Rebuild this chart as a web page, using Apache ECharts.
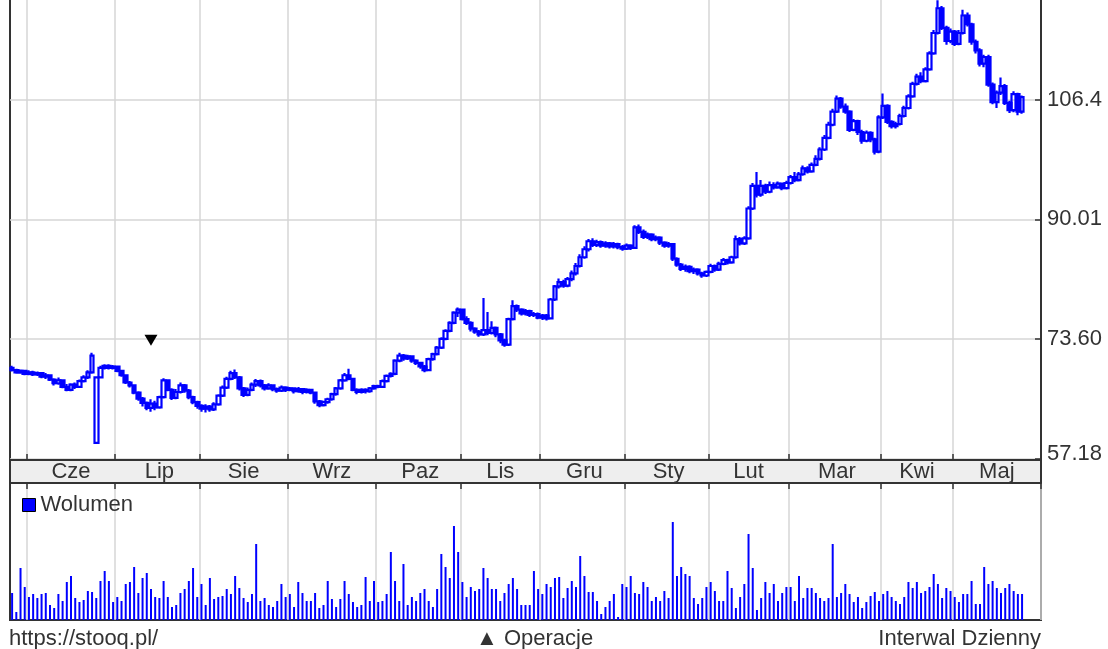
<!DOCTYPE html>
<html>
<head>
<meta charset="utf-8">
<script src="https://cdn.jsdelivr.net/npm/echarts@6/dist/echarts.min.js"></script>
<style>
  html, body { margin: 0; padding: 0; background: #fff; }
  #chart { width: 1108px; height: 649px; }
</style>
</head>
<body>
<div id="chart"></div>
<script>
// month names and the index of the first session of each month
const months = ['Cze', 'Lip', 'Sie', 'Wrz', 'Paz', 'Lis', 'Gru', 'Sty', 'Lut', 'Mar', 'Kwi', 'Maj'];
const monthStart = [4, 25, 45, 66, 87, 107, 126, 146, 166, 185, 207, 224];
const sessionSlots = 245;
const priceTicks = [57.18, 73.60, 90.01, 106.4, 122.8];

// daily candles: [open, close, low, high]
const candles = [
  [69.6,69.3,69.1,69.9],[69.3,69.0,68.8,69.5],[69.0,69.2,68.8,69.4],[69.2,68.8,68.6,69.3],[68.8,69.0,68.6,69.3],
  [69.0,68.7,68.5,69.2],[68.7,68.9,68.5,69.1],[68.9,68.4,68.2,69.0],[68.4,68.6,68.1,68.9],[68.6,68.0,67.8,68.7],
  [68.0,67.5,67.2,68.2],[67.5,67.9,67.3,68.3],[67.9,67.0,66.8,68.0],[67.0,66.6,66.4,67.4],[66.6,67.3,66.4,67.5],
  [67.3,67.0,66.7,67.6],[67.0,67.8,66.9,68.0],[67.8,68.3,67.6,68.6],[68.3,69.0,68.1,69.3],[69.0,71.3,68.8,71.7],
  [59.3,68.3,59.3,68.4],[68.3,69.6,68.2,69.9],[69.6,69.9,69.4,70.1],[69.9,69.6,69.4,70.1],[69.6,69.8,69.4,70.0],
  [69.8,69.2,69.0,69.9],[69.2,68.6,68.4,69.3],[68.6,67.6,67.4,68.7],[67.6,67.2,66.9,67.8],[67.2,66.2,66.0,67.3],
  [66.2,65.4,65.1,66.4],[65.4,64.8,64.3,65.6],[64.8,64.1,63.8,65.0],[64.1,64.7,63.6,65.3],[64.7,64.2,63.8,65.1],
  [64.2,65.6,64.0,65.8],[65.6,67.9,65.4,68.2],[67.9,66.6,66.4,68.0],[66.6,65.5,65.2,66.8],[65.5,66.3,65.3,66.7],
  [66.3,67.2,66.1,67.6],[67.2,66.5,66.2,67.4],[66.5,65.6,65.3,66.7],[65.6,64.9,64.6,65.8],[64.9,64.4,64.0,65.1],
  [64.4,64.0,63.6,64.6],[64.0,64.3,63.5,64.6],[64.3,63.9,63.6,64.5],[63.9,64.6,63.7,64.9],[64.6,65.8,64.4,66.0],
  [65.8,66.9,65.6,67.2],[66.9,68.1,66.7,68.4],[68.1,68.9,67.9,69.2],[68.9,68.3,68.1,69.4],[68.3,66.8,66.5,68.5],
  [66.8,65.9,65.6,67.0],[65.9,66.6,65.7,66.9],[66.6,67.3,66.4,67.6],[67.3,67.8,67.0,68.1],[67.8,67.2,66.9,68.0],
  [67.2,66.8,66.5,67.4],[66.8,67.2,66.6,67.5],[67.2,66.7,66.4,67.3],[66.7,66.5,66.2,66.9],[66.5,66.9,66.3,67.2],
  [66.9,66.6,66.3,67.1],[66.6,66.8,66.4,67.0],[66.8,66.4,66.1,66.9],[66.4,66.7,66.2,67.0],[66.7,66.3,66.0,66.8],
  [66.3,66.6,66.1,66.8],[66.6,66.2,66.0,66.7],[66.2,65.0,64.7,66.3],[65.0,64.5,64.2,65.2],[64.5,64.9,64.3,65.1],
  [64.9,65.3,64.7,65.5],[65.3,66.0,65.1,66.2],[66.0,66.8,65.8,67.0],[66.8,67.9,66.6,68.1],[67.9,68.6,67.7,68.9],
  [68.6,68.1,67.9,69.5],[68.1,66.6,66.4,68.2],[66.6,66.3,66.0,66.8],[66.3,66.6,66.1,66.8],[66.6,66.4,66.1,66.8],
  [66.4,66.8,66.2,67.0],[66.8,67.1,66.6,67.3],[67.1,67.0,66.8,67.3],[67.0,67.8,66.9,68.0],[67.8,68.5,67.6,68.7],
  [68.5,68.8,68.3,69.0],[68.8,70.6,68.6,70.8],[70.6,71.3,70.4,71.7],[71.3,70.9,70.6,71.5],[70.9,71.2,70.7,71.4],
  [71.2,70.6,70.3,71.3],[70.6,70.3,70.0,70.8],[70.3,69.8,69.5,70.4],[69.8,69.3,69.0,70.0],[69.3,70.8,69.2,71.0],
  [70.8,71.5,70.6,71.7],[71.5,72.4,71.3,72.6],[72.4,73.6,72.2,73.8],[73.6,74.7,73.4,74.9],[74.7,75.8,74.5,76.0],
  [75.8,77.2,75.6,77.4],[77.2,77.6,76.6,77.9],[77.6,76.3,76.1,77.7],[76.3,75.8,75.5,76.7],[75.8,75.0,74.6,76.0],
  [75.0,74.6,74.3,75.2],[74.6,74.2,73.9,74.8],[74.2,74.8,74.0,79.2],[74.8,74.4,74.1,77.3],[74.4,75.1,74.2,76.0],
  [75.1,74.2,73.8,75.3],[74.2,73.4,73.0,74.4],[73.4,72.8,72.5,73.6],[72.8,76.3,72.6,76.5],[76.3,78.1,76.1,78.9],
  [78.1,77.6,77.3,78.3],[77.6,77.1,76.8,77.8],[77.1,77.4,76.8,77.7],[77.4,76.9,76.6,77.6],[76.9,77.0,76.6,77.3],
  [77.0,76.5,76.3,77.2],[76.5,76.8,76.2,77.0],[76.8,76.4,76.1,77.0],[76.4,79.0,76.3,79.2],[79.0,80.8,78.8,81.0],
  [80.8,81.4,80.5,81.9],[81.4,80.9,80.6,81.7],[80.9,81.8,80.7,82.1],[81.8,82.6,81.5,83.0],[82.6,83.6,82.3,84.0],
  [83.6,84.8,83.4,85.2],[84.8,85.9,84.6,86.3],[85.9,87.0,85.6,87.3],[87.0,86.5,86.2,87.4],[86.5,86.9,86.2,87.2],
  [86.9,86.4,86.1,87.1],[86.4,86.7,86.1,87.0],[86.7,86.3,86.0,86.9],[86.3,86.6,86.0,86.9],[86.6,86.2,85.9,86.8],
  [86.2,86.0,85.7,86.5],[86.0,86.4,85.8,86.7],[86.4,86.1,85.8,86.6],[86.1,88.9,86.0,89.2],[88.9,88.3,88.0,89.3],
  [88.3,87.6,87.3,88.6],[87.6,87.9,87.3,88.2],[87.9,87.3,87.0,88.1],[87.3,87.5,87.0,87.8],[87.5,86.8,86.5,87.7],
  [86.8,86.4,86.1,87.0],[86.4,86.6,86.1,86.9],[86.6,84.6,84.3,86.7],[84.6,83.8,83.5,84.8],[83.8,83.2,82.9,84.0],
  [83.2,83.5,82.8,83.8],[83.5,82.9,82.6,83.7],[82.9,83.1,82.5,83.4],[83.1,82.6,82.3,83.3],[82.6,82.3,82.0,82.8],
  [82.3,82.8,82.1,83.0],[82.8,83.6,82.6,83.9],[83.6,83.1,82.8,83.8],[83.1,83.9,82.9,84.2],[83.9,84.4,83.7,84.7],
  [84.4,84.1,83.8,84.6],[84.1,84.8,83.9,85.0],[84.8,87.3,84.6,87.8],[87.3,86.7,86.4,87.6],[86.7,87.4,86.5,87.7],
  [87.4,91.5,87.2,91.8],[91.5,94.6,91.3,95.0],[94.6,93.4,93.0,96.5],[93.4,94.6,93.1,95.4],[94.6,93.8,93.5,94.9],
  [93.8,94.7,93.6,95.2],[94.7,94.4,94.1,95.1],[94.4,94.9,94.2,95.2],[94.9,94.3,94.0,95.0],[94.3,95.0,94.1,95.3],
  [95.0,95.8,94.8,96.1],[95.8,95.4,95.1,96.5],[95.4,96.2,95.2,96.5],[96.2,97.0,96.0,97.4],[97.0,96.6,96.3,97.3],
  [96.6,97.5,96.4,97.8],[97.5,98.3,97.3,98.8],[98.3,99.6,98.1,99.9],[99.6,101.2,99.4,101.6],[101.2,103.0,101.0,103.4],
  [103.0,104.8,102.8,105.2],[104.8,106.6,104.6,107.0],[106.6,105.5,105.2,106.8],[105.5,104.8,104.5,105.9],[104.8,102.3,102.0,105.0],
  [102.3,103.5,102.1,103.8],[103.5,102.0,101.6,103.7],[102.0,100.8,100.4,102.3],[100.8,101.9,100.6,102.2],[101.9,101.0,100.6,102.1],
  [101.0,99.3,98.9,101.2],[99.3,104.0,99.1,104.3],[104.0,105.6,103.8,107.3],[105.6,103.4,103.1,105.8],[103.4,102.8,102.5,103.6],
  [102.8,103.1,102.5,103.4],[103.1,104.2,102.9,104.5],[104.2,105.3,104.0,105.6],[105.3,106.9,105.1,107.2],[106.9,108.6,106.7,108.9],
  [108.6,109.6,108.4,110.0],[109.6,109.0,108.7,110.2],[109.0,110.6,108.8,110.9],[110.6,112.8,110.4,113.1],[112.8,115.6,112.6,116.0],
  [115.6,119.0,115.4,120.1],[119.0,116.3,116.0,119.3],[116.3,114.5,114.0,116.6],[114.5,115.8,114.2,116.2],[115.8,114.1,113.8,116.0],
  [114.1,115.6,113.9,116.0],[115.6,118.0,115.4,118.8],[118.0,116.8,116.5,118.4],[116.8,114.4,114.0,117.0],[114.4,113.2,112.8,114.7],
  [113.2,111.4,111.0,113.5],[111.4,112.3,110.9,112.6],[112.3,108.5,108.2,112.6],[108.5,106.1,105.8,108.8],[106.1,107.4,105.3,107.7],
  [107.4,108.3,107.1,109.5],[108.3,106.0,105.7,108.6],[106.0,105.0,104.6,106.3],[105.0,107.2,104.7,107.6],[107.2,104.8,104.3,107.4],
  [104.8,106.8,104.5,107.0]
];

// daily volume (same sessions as candles)
const volume = [
  27,8,52,33,23,26,22,26,27,15,12,26,19,38,44,22,18,20,29,28,
  22,39,49,39,18,23,19,36,38,53,27,42,47,31,23,22,39,23,13,15,
  27,31,39,52,23,36,15,42,21,23,24,31,26,44,32,22,18,26,76,19,
  22,15,13,19,36,23,26,13,38,27,19,19,27,12,15,39,21,13,21,39,
  26,18,13,15,43,19,39,18,19,26,68,39,19,56,15,23,19,27,31,19,
  13,31,66,53,42,94,68,38,23,33,29,31,52,42,31,31,19,27,36,42,
  31,15,15,15,49,31,26,36,33,42,43,
  22,32,39,33,64,44,28,28,19,6,13,19,26,3,36,33,44,27,26,38,
  33,19,23,19,29,22,98,44,53,46,44,22,16,22,33,38,29,19,19,49,
  32,12,23,36,86,52,10,22,38,27,36,19,27,33,33,19,44,22,32,32,
  27,22,19,22,76,23,27,36,26,18,23,12,18,24,28,19,26,29,23,19,
  16,23,38,32,38,27,29,33,46,36,22,32,29,23,18,26,26,39,16,16,
  53,36,39,32,27,32,36,29,26,26
];

// trade marker (Operacje)
const opDay = 33;
const opPrice = 73.4;

const days = Array.from({ length: sessionSlots }, (_, i) => String(i));
const monthLabel = {};
monthStart.forEach((s, m) => {
  const e = m + 1 < monthStart.length ? monthStart[m + 1] : sessionSlots;
  monthLabel[Math.round((s + e - 1) / 2)] = months[m];
});
const isMonthStart = (i) => monthStart.indexOf(i) >= 0;
const isMonthMid = (i) => monthLabel[i] !== undefined;

const frame = { color: '#333', width: 2 };
const gridLine = { color: '#d6d6d6', width: 1.5 };
const txt = '#333';
const fs = 22;

const chart = echarts.init(document.getElementById('chart'));
chart.setOption({
  animation: false,
  backgroundColor: '#fff',
  textStyle: { fontFamily: '"Liberation Sans", Arial, sans-serif' },
  title: [
    { text: 'https://stooq.pl/', left: 9, top: 628, padding: 0,
      textStyle: { fontSize: fs, fontWeight: 'normal', color: txt } },
    { text: '▲ Operacje', left: 476, top: 628, padding: 0,
      textStyle: { fontSize: fs, fontWeight: 'normal', color: txt } },
    { text: 'Interwal Dzienny', right: 67, top: 628, padding: 0,
      textStyle: { fontSize: fs, fontWeight: 'normal', color: txt } }
  ],
  legend: {
    data: ['Wolumen'], left: 22, top: 494, padding: 0,
    icon: 'rect', itemWidth: 13, itemHeight: 13, itemGap: 6,
    selectedMode: false,
    itemStyle: { borderColor: '#000', borderWidth: 1 },
    textStyle: { fontSize: fs, color: txt }
  },
  grid: [
    { left: 10, right: 67, top: -30, bottom: 189, show: true, borderColor: '#333', borderWidth: 2, outerBoundsMode: 'none' },
    { left: 10, right: 67, top: 460, height: 23, show: true, backgroundColor: '#eeeeee', borderColor: '#333', borderWidth: 2, outerBoundsMode: 'none' },
    { left: 10, right: 67, top: 483, bottom: 29, show: true, borderColor: '#333', borderWidth: 2, outerBoundsMode: 'none' }
  ],
  xAxis: [
    {
      gridIndex: 0, type: 'category', data: days, boundaryGap: true,
      axisLine: { show: true, onZero: false, lineStyle: frame },
      axisTick: { show: true, inside: true, length: 6, interval: isMonthStart, lineStyle: { color: '#333', width: 1.5 } },
      axisLabel: { show: true, interval: isMonthMid, formatter: (v, i) => monthLabel[i] || '',
                   margin: 1, fontSize: fs, color: txt },
      splitLine: { show: true, interval: isMonthStart, lineStyle: gridLine }
    },
    { gridIndex: 1, type: 'category', data: days, show: false },
    {
      gridIndex: 2, type: 'category', data: days, boundaryGap: true, position: 'top',
      axisLine: { show: true, onZero: false, lineStyle: frame },
      axisTick: { show: true, inside: true, length: 6, interval: isMonthStart, lineStyle: { color: '#333', width: 1.5 } },
      axisLabel: { show: false },
      splitLine: { show: true, interval: isMonthStart, lineStyle: gridLine }
    }
  ],
  yAxis: [
    {
      gridIndex: 0, type: 'value', position: 'right', min: 56.96, max: 124.25, scale: true,
      axisLine: { show: true, lineStyle: frame },
      axisTick: { show: true, inside: true, length: 6, customValues: priceTicks, lineStyle: { color: '#333', width: 1.5 } },
      axisLabel: {
        show: true, customValues: priceTicks, margin: 6, fontSize: fs, color: txt,
        formatter: (v) => {
          const s = Number(v).toPrecision(4);
          if (v > 120) return '{top|' + s + '}';
          if (v < 60) return '{bot|' + s + '}';
          return s;
        },
        rich: {
          top: { fontSize: fs, color: txt, padding: [24, 0, 0, 0] },
          bot: { fontSize: fs, color: txt, padding: [0, 0, 8, 0] }
        }
      },
      splitLine: { show: true, lineStyle: gridLine }
    },
    { gridIndex: 1, type: 'value', show: false },
    { gridIndex: 2, type: 'value', min: 0, max: 137, show: false, splitLine: { show: false } }
  ],
  series: [
    {
      name: 'Kurs', type: 'candlestick', xAxisIndex: 0, yAxisIndex: 0,
      data: candles, barWidth: 4,
      itemStyle: {
        color: 'rgba(255,255,255,0)', color0: '#0000ff',
        borderColor: '#0000ff', borderColor0: '#0000ff', borderWidth: 2.2
      },
      markPoint: {
        symbol: 'triangle', symbolSize: [13, 11], symbolRotate: 180,
        label: { show: false },
        itemStyle: { color: '#000' },
        data: [{ coord: [String(opDay), opPrice] }]
      }
    },
    {
      name: 'Wolumen', type: 'bar', xAxisIndex: 2, yAxisIndex: 2,
      data: volume, barWidth: 2,
      itemStyle: { color: '#0000ff' }
    }
  ]
});
</script>
</body>
</html>
